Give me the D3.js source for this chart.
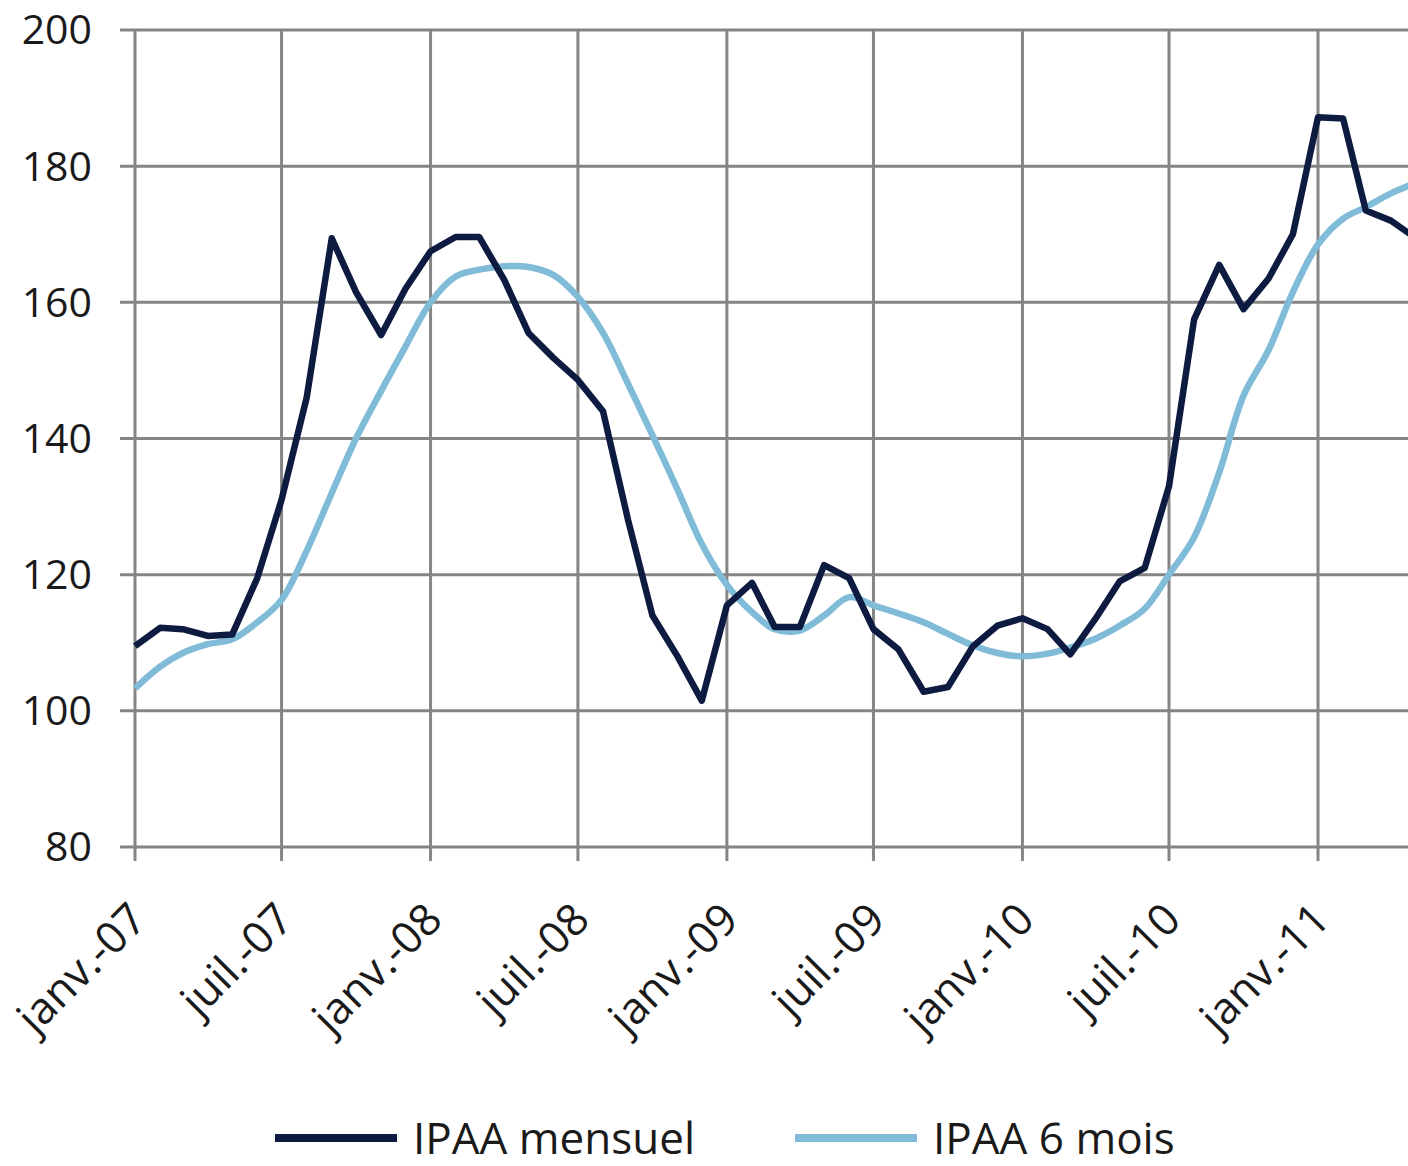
<!DOCTYPE html>
<html>
<head>
<meta charset="utf-8">
<script src="https://cdn.jsdelivr.net/npm/d3@7"></script>
<style>
  body { margin: 0; background: #fff; }
  svg { display: block; }
  text { font-family: "Open Sans", "DejaVu Sans", sans-serif; fill: #1a1a1a; }
</style>
</head>
<body>
<svg></svg>
<script>
// monthly values starting janv.-07
var startMonth = new Date(2007, 0, 1);

var mensuel = [109.5, 112.2, 112, 111, 111.2, 119.5, 131, 146, 169.4, 161.5,
  155.2, 162, 167.5, 169.6, 169.6, 163.3, 155.5, 151.8, 148.6, 144,
  128, 114, 108, 101.5, 115.5, 118.8, 112.3, 112.3, 121.4, 119.5,
  112, 109, 102.8, 103.5, 109.5, 112.5, 113.6, 112, 108.3, 113.5,
  119, 121, 133, 157.5, 165.5, 159, 163.5, 170, 187.2, 187,
  173.5, 172, 169.5];

var sixMois = [103.3, 106.5, 108.5, 109.8, 110.5, 113, 116.3, 123.5, 132, 140,
  147, 153.5, 160, 163.8, 164.8, 165.3, 165.2, 164, 160.8, 155.5,
  148, 140.5, 132.5, 124.5, 118.5, 114.5, 112, 111.8, 114, 116.7,
  115.5, 114.3, 113, 111.3, 109.6, 108.5, 108, 108.4, 109.3, 110.6,
  112.5, 115, 120, 125.5, 135, 146.3, 153, 161.5, 168.5, 172.3,
  174, 176, 177.5];

var tickLabels = ["janv.-07", "juil.-07", "janv.-08", "juil.-08", "janv.-09",
  "juil.-09", "janv.-10", "juil.-10", "janv.-11"];
var yTicks = [80, 100, 120, 140, 160, 180, 200];

var seriesNames = ["IPAA mensuel", "IPAA 6 mois"];
var colors = ["#0e1b40", "#80bcd8"];

var W = 1408, H = 1166;
var svg = d3.select("svg").attr("width", W).attr("height", H);

function monthDate(i) { return d3.timeMonth.offset(startMonth, i); }

var x = d3.scaleTime()
  .domain([monthDate(0), monthDate(48)])
  .range([135, 1318]);

var y = d3.scaleLinear()
  .domain([80, 200])
  .range([847, 30]);

var tickDates = tickLabels.map(function(d, i) { return monthDate(i * 6); });

// grid
var grid = svg.append("g");
grid.selectAll(".h")
  .data(yTicks)
  .enter().append("line")
  .attr("x1", 120).attr("x2", W)
  .attr("y1", function(d) { return y(d); })
  .attr("y2", function(d) { return y(d); })
  .attr("stroke", "#858585").attr("stroke-width", 3);

grid.selectAll(".v")
  .data(tickDates)
  .enter().append("line")
  .attr("x1", function(d) { return x(d); })
  .attr("x2", function(d) { return x(d); })
  .attr("y1", y(200)).attr("y2", y(80) + 14)
  .attr("stroke", "#858585").attr("stroke-width", 3);

// y labels
svg.append("g").selectAll("text")
  .data(yTicks)
  .enter().append("text")
  .attr("x", 92)
  .attr("y", function(d) { return y(d); })
  .attr("dy", "0.35em")
  .attr("text-anchor", "end")
  .style("font-size", "41px")
  .text(function(d) { return d; });

// x labels, rotated
svg.append("g").selectAll("text")
  .data(tickDates)
  .enter().append("text")
  .attr("text-anchor", "end")
  .attr("transform", function(d) {
    return "translate(" + (x(d) + 14) + "," + 922 + ") rotate(-45)";
  })
  .style("font-size", "44px")
  .text(function(d, i) { return tickLabels[i]; });

// lines
var lineDark = d3.line()
  .x(function(d, i) { return x(monthDate(i)); })
  .y(function(d) { return y(d); });

var lineLight = d3.line()
  .x(function(d, i) { return x(monthDate(i)); })
  .y(function(d) { return y(d); })
  .curve(d3.curveCatmullRom.alpha(0.5));

svg.append("path")
  .datum(sixMois)
  .attr("d", lineLight)
  .attr("fill", "none")
  .attr("stroke", colors[1])
  .attr("stroke-width", 6.5)
  .attr("stroke-linejoin", "round");

svg.append("path")
  .datum(mensuel)
  .attr("d", lineDark)
  .attr("fill", "none")
  .attr("stroke", colors[0])
  .attr("stroke-width", 6.5)
  .attr("stroke-linejoin", "round");

// legend
var legendX = [275, 795];
var legend = svg.append("g").selectAll("g")
  .data(seriesNames)
  .enter().append("g")
  .attr("transform", function(d, i) { return "translate(" + legendX[i] + ",1138)"; });

legend.append("line")
  .attr("x1", 0).attr("x2", 122)
  .attr("stroke", function(d, i) { return colors[i]; })
  .attr("stroke-width", 8);

legend.append("text")
  .attr("x", 138)
  .attr("dy", "0.36em")
  .style("font-size", "44px")
  .text(function(d) { return d; });
</script>
</body>
</html>
